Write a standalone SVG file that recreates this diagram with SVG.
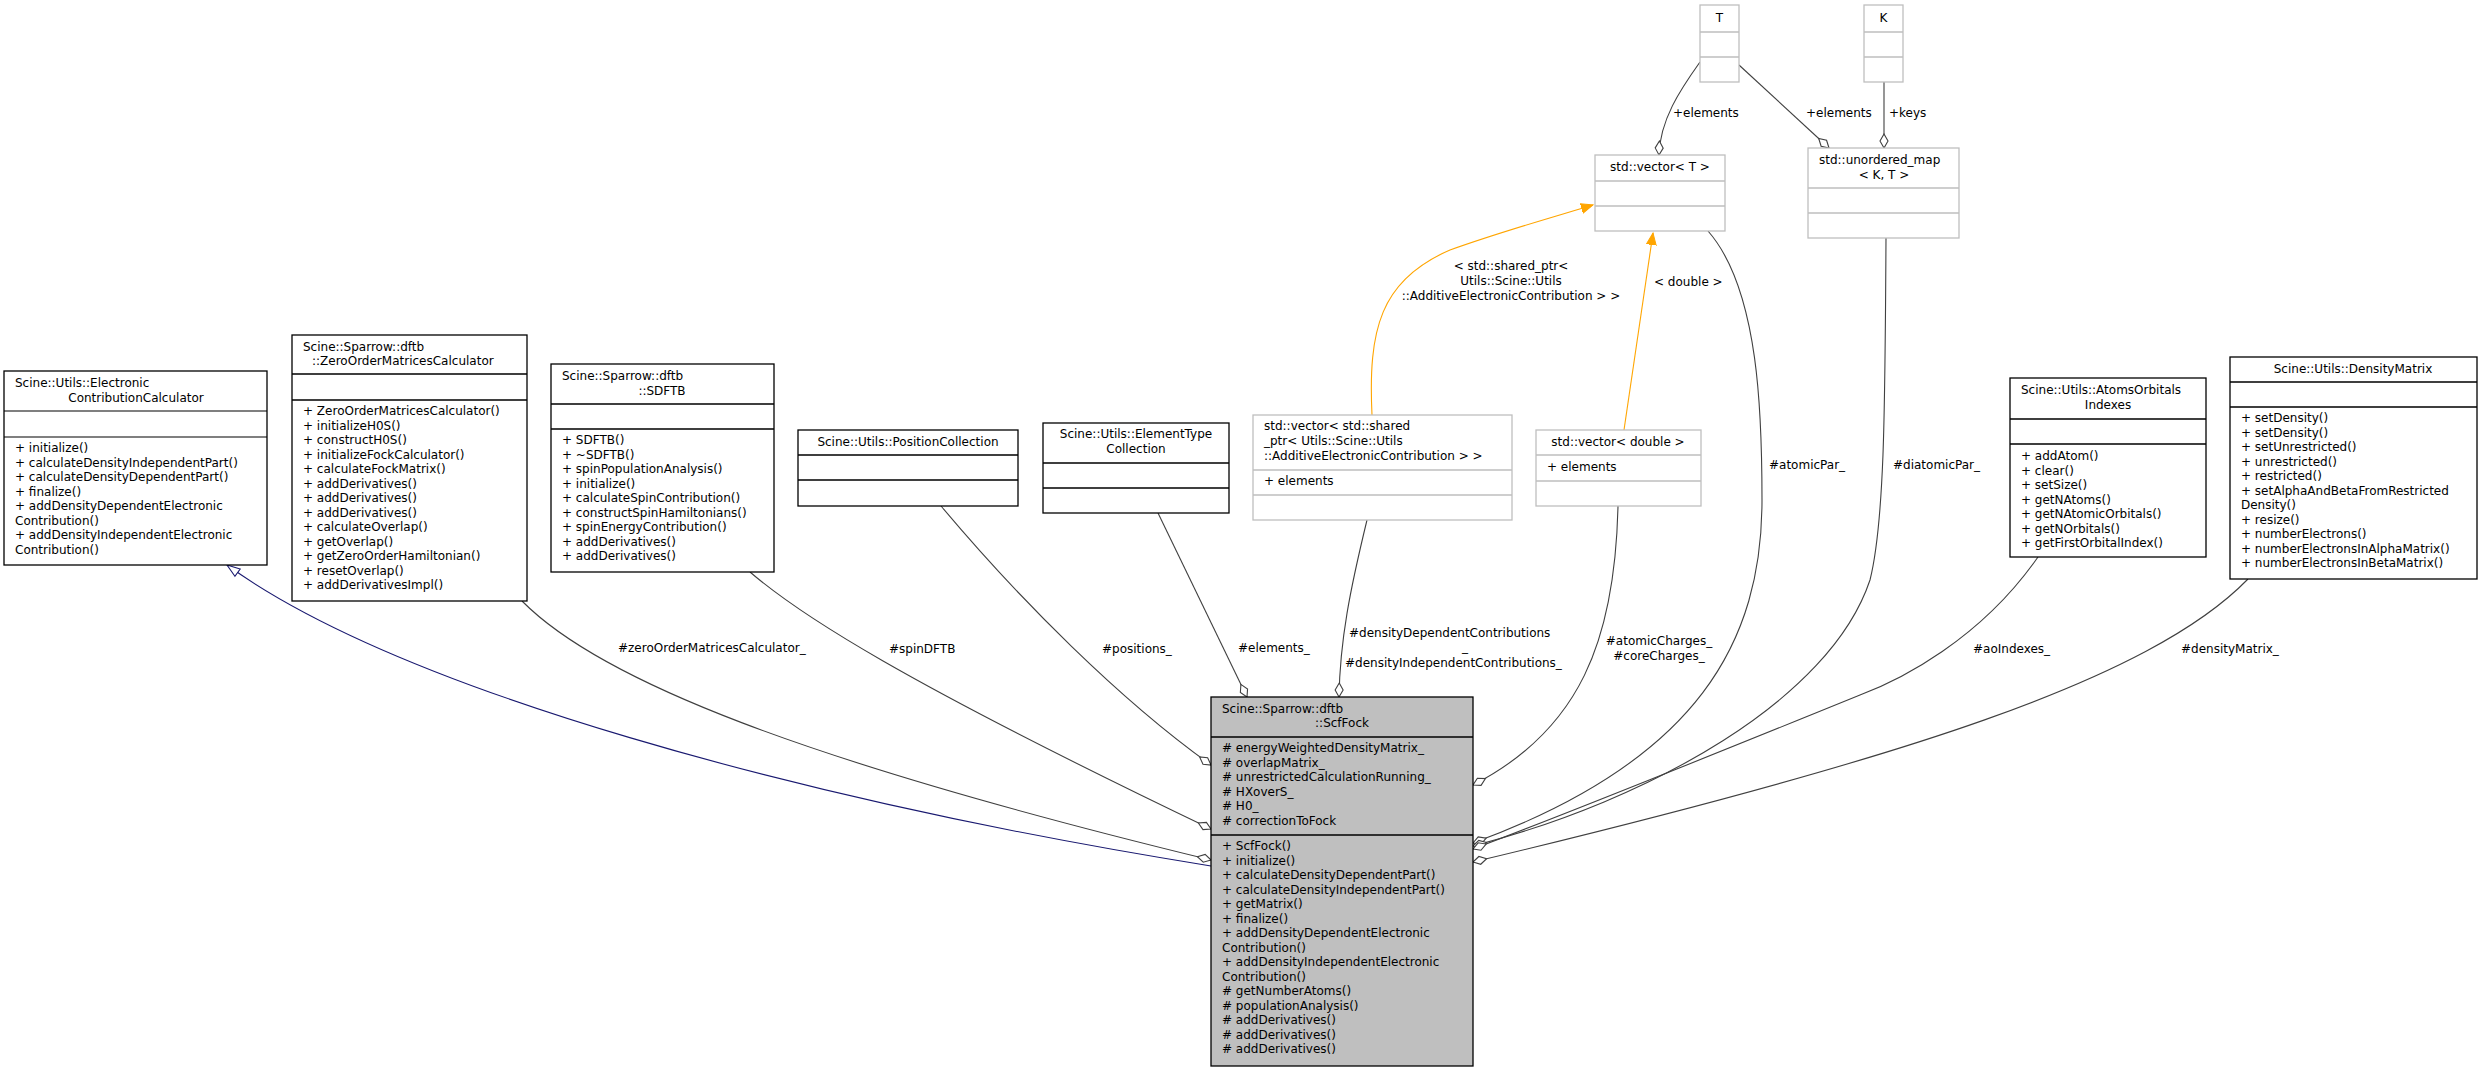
<svg xmlns="http://www.w3.org/2000/svg" width="2483" height="1072" viewBox="0 0 2483 1072">
<style>
text{font-family:"DejaVu Sans","Liberation Sans",sans-serif;font-size:12px;fill:#000}
.c{text-anchor:middle}
.box{fill:#fff;stroke:#000;stroke-width:1.3}
.tb{fill:#fff;stroke:#bfbfbf;stroke-width:1.3}
.sel{fill:#bfbfbf;stroke:#000;stroke-width:1.3}
.e{fill:none;stroke:#404040;stroke-width:1.1}
.or{fill:none;stroke:#ffa500;stroke-width:1.1}
.inh{fill:none;stroke:#191970;stroke-width:1.1}
</style>
<defs>
<marker id="dia" markerUnits="userSpaceOnUse" markerWidth="20" markerHeight="12" refX="15" refY="5" orient="auto" viewBox="0 0 20 10">
<path d="M15,5 L8,1 L1,5 L8,9 Z" fill="#fff" stroke="#404040" stroke-width="1.1"/>
</marker>
<marker id="oarr" markerUnits="userSpaceOnUse" markerWidth="14" markerHeight="12" refX="12" refY="5" orient="auto" viewBox="0 0 14 10">
<path d="M0,0 L12,5 L0,10 Z" fill="#ffa500" stroke="#ffa500"/>
</marker>
<marker id="inh" markerUnits="userSpaceOnUse" markerWidth="16" markerHeight="12" refX="14" refY="5" orient="auto" viewBox="0 0 16 10">
<path d="M1,0.5 L14,5 L1,9.5 Z" fill="#fff" stroke="#191970" stroke-width="1.1"/>
</marker>
</defs>

<g id="connectors">
<path class="inh" d="M1211,866 C800,800 400,690 227,565" marker-end="url(#inh)"/>
<path class="e" d="M522,601 C600,680 800,760 1211,860" marker-end="url(#dia)"/>
<path class="e" d="M750,572 C800,615 900,680 1211,829" marker-end="url(#dia)"/>
<path class="e" d="M941,506 C1020,600 1120,700 1211,765" marker-end="url(#dia)"/>
<path class="e" d="M1158,513 L1247,697" marker-end="url(#dia)"/>
<path class="e" d="M1367,520 C1350,590 1340,640 1339,697" marker-end="url(#dia)"/>
<path class="e" d="M1618,506 C1615,640 1580,730 1473,785" marker-end="url(#dia)"/>
<path class="e" d="M1708,231 C1760,290 1762,420 1762,500 C1762,640 1700,760 1473,843" marker-end="url(#dia)"/>
<path class="e" d="M1886,238 C1885,400 1885,520 1870,580 C1830,700 1650,800 1473,846" marker-end="url(#dia)"/>
<path class="e" d="M2038,557 C1980,640 1900,680 1860,695 C1700,760 1550,820 1473,849" marker-end="url(#dia)"/>
<path class="e" d="M2248,579 C2150,680 1900,760 1473,862" marker-end="url(#dia)"/>
<path class="e" d="M1700,62 C1680,90 1660,120 1659,155" marker-end="url(#dia)"/>
<path class="e" d="M1739,65 L1829,148" marker-end="url(#dia)"/>
<path class="e" d="M1884,82 L1884,148" marker-end="url(#dia)"/>
<path class="or" d="M1372,415 C1368,330 1380,280 1450,250 C1500,232 1550,218 1593,205" marker-end="url(#oarr)"/>
<path class="or" d="M1624,430 L1653,233" marker-end="url(#oarr)"/>
<text x="618" y="652">#zeroOrderMatricesCalculator_</text>
<text x="889" y="653">#spinDFTB</text>
<text x="1102" y="653">#positions_</text>
<text x="1238" y="652">#elements_</text>
<text x="1349" y="637">#densityDependentContributions</text>
<text x="1462" y="651">_</text>
<text x="1345" y="667">#densityIndependentContributions_</text>
<text class="c" x="1659" y="645">#atomicCharges_</text>
<text class="c" x="1659" y="660">#coreCharges_</text>
<text x="1769" y="469">#atomicPar_</text>
<text x="1893" y="469">#diatomicPar_</text>
<text x="1973" y="653">#aoIndexes_</text>
<text x="2181" y="653">#densityMatrix_</text>
<text x="1673" y="117">+elements</text>
<text x="1806" y="117">+elements</text>
<text x="1889" y="117">+keys</text>
<text x="1654" y="286">&lt; double &gt;</text>
<text class="c" x="1511" y="270">&lt; std::shared_ptr&lt;</text>
<text class="c" x="1511" y="285">Utils::Scine::Utils</text>
<text class="c" x="1511" y="300">::AdditiveElectronicContribution &gt; &gt;</text>
</g>

<g id="ElectronicContributionCalculator">
<rect class="box" x="4" y="371" width="263" height="194"/>
<path class="e" stroke="#000" d="M4,411 H267 M4,437 H267" style="stroke:#000"/>
<text x="15" y="387">Scine::Utils::Electronic</text>
<text class="c" x="136" y="402">ContributionCalculator</text>
<text x="15" y="452">+ initialize()</text>
<text x="15" y="466.5">+ calculateDensityIndependentPart()</text>
<text x="15" y="481">+ calculateDensityDependentPart()</text>
<text x="15" y="495.5">+ finalize()</text>
<text x="15" y="510">+ addDensityDependentElectronic</text>
<text x="15" y="524.5">Contribution()</text>
<text x="15" y="539">+ addDensityIndependentElectronic</text>
<text x="15" y="553.5">Contribution()</text>
</g>

<g id="ZeroOrderMatricesCalculator">
<rect class="box" x="292" y="335" width="235" height="266"/>
<path d="M292,374 H527 M292,400 H527" stroke="#000" stroke-width="1.3"/>
<text x="303" y="351">Scine::Sparrow::dftb</text>
<text x="312" y="365">::ZeroOrderMatricesCalculator</text>
<text x="303" y="415">+ ZeroOrderMatricesCalculator()</text>
<text x="303" y="429.5">+ initializeH0S()</text>
<text x="303" y="444">+ constructH0S()</text>
<text x="303" y="458.5">+ initializeFockCalculator()</text>
<text x="303" y="473">+ calculateFockMatrix()</text>
<text x="303" y="487.5">+ addDerivatives()</text>
<text x="303" y="502">+ addDerivatives()</text>
<text x="303" y="516.5">+ addDerivatives()</text>
<text x="303" y="531">+ calculateOverlap()</text>
<text x="303" y="545.5">+ getOverlap()</text>
<text x="303" y="560">+ getZeroOrderHamiltonian()</text>
<text x="303" y="574.5">+ resetOverlap()</text>
<text x="303" y="589">+ addDerivativesImpl()</text>
</g>

<g id="SDFTB">
<rect class="box" x="551" y="364" width="223" height="208"/>
<path d="M551,404 H774 M551,429 H774" stroke="#000" stroke-width="1.3"/>
<text x="562" y="380">Scine::Sparrow::dftb</text>
<text class="c" x="662" y="395">::SDFTB</text>
<text x="562" y="444">+ SDFTB()</text>
<text x="562" y="458.5">+ ~SDFTB()</text>
<text x="562" y="473">+ spinPopulationAnalysis()</text>
<text x="562" y="487.5">+ initialize()</text>
<text x="562" y="502">+ calculateSpinContribution()</text>
<text x="562" y="516.5">+ constructSpinHamiltonians()</text>
<text x="562" y="531">+ spinEnergyContribution()</text>
<text x="562" y="545.5">+ addDerivatives()</text>
<text x="562" y="560">+ addDerivatives()</text>
</g>

<g id="PositionCollection">
<rect class="box" x="798" y="430" width="220" height="76"/>
<path d="M798,455 H1018 M798,480 H1018" stroke="#000" stroke-width="1.3"/>
<text class="c" x="908" y="446">Scine::Utils::PositionCollection</text>
</g>

<g id="ElementTypeCollection">
<rect class="box" x="1043" y="423" width="186" height="90"/>
<path d="M1043,463 H1229 M1043,488 H1229" stroke="#000" stroke-width="1.3"/>
<text class="c" x="1136" y="438">Scine::Utils::ElementType</text>
<text class="c" x="1136" y="453">Collection</text>
</g>

<g id="VectorSharedPtr">
<rect class="tb" x="1253" y="415" width="259" height="105"/>
<path d="M1253,470 H1512 M1253,495 H1512" stroke="#bfbfbf" stroke-width="1.3"/>
<text x="1264" y="430">std::vector&lt; std::shared</text>
<text x="1264" y="445">_ptr&lt; Utils::Scine::Utils</text>
<text x="1264" y="460">::AdditiveElectronicContribution &gt; &gt;</text>
<text x="1264" y="485">+ elements</text>
</g>

<g id="VectorDouble">
<rect class="tb" x="1536" y="430" width="165" height="76"/>
<path d="M1536,455 H1701 M1536,481 H1701" stroke="#bfbfbf" stroke-width="1.3"/>
<text class="c" x="1618" y="446">std::vector&lt; double &gt;</text>
<text x="1547" y="471">+ elements</text>
</g>

<g id="T">
<rect class="tb" x="1700" y="5" width="39" height="77"/>
<path d="M1700,32 H1739 M1700,57 H1739" stroke="#bfbfbf" stroke-width="1.3"/>
<text class="c" x="1719.5" y="22">T</text>
</g>

<g id="K">
<rect class="tb" x="1864" y="5" width="39" height="77"/>
<path d="M1864,32 H1903 M1864,57 H1903" stroke="#bfbfbf" stroke-width="1.3"/>
<text class="c" x="1883.5" y="22">K</text>
</g>

<g id="VectorT">
<rect class="tb" x="1595" y="155" width="130" height="76"/>
<path d="M1595,181 H1725 M1595,206 H1725" stroke="#bfbfbf" stroke-width="1.3"/>
<text class="c" x="1660" y="171">std::vector&lt; T &gt;</text>
</g>

<g id="UnorderedMap">
<rect class="tb" x="1808" y="148" width="151" height="90"/>
<path d="M1808,188 H1959 M1808,213 H1959" stroke="#bfbfbf" stroke-width="1.3"/>
<text x="1819" y="164">std::unordered_map</text>
<text class="c" x="1884" y="179">&lt; K, T &gt;</text>
</g>

<g id="AtomsOrbitalsIndexes">
<rect class="box" x="2010" y="378" width="196" height="179"/>
<path d="M2010,419 H2206 M2010,444 H2206" stroke="#000" stroke-width="1.3"/>
<text x="2021" y="394">Scine::Utils::AtomsOrbitals</text>
<text class="c" x="2108" y="409">Indexes</text>
<text x="2021" y="460">+ addAtom()</text>
<text x="2021" y="474.5">+ clear()</text>
<text x="2021" y="489">+ setSize()</text>
<text x="2021" y="503.5">+ getNAtoms()</text>
<text x="2021" y="518">+ getNAtomicOrbitals()</text>
<text x="2021" y="532.5">+ getNOrbitals()</text>
<text x="2021" y="547">+ getFirstOrbitalIndex()</text>
</g>

<g id="DensityMatrix">
<rect class="box" x="2230" y="357" width="247" height="222"/>
<path d="M2230,382 H2477 M2230,407 H2477" stroke="#000" stroke-width="1.3"/>
<text class="c" x="2353" y="373">Scine::Utils::DensityMatrix</text>
<text x="2241" y="422">+ setDensity()</text>
<text x="2241" y="436.5">+ setDensity()</text>
<text x="2241" y="451">+ setUnrestricted()</text>
<text x="2241" y="465.5">+ unrestricted()</text>
<text x="2241" y="480">+ restricted()</text>
<text x="2241" y="494.5">+ setAlphaAndBetaFromRestricted</text>
<text x="2241" y="509">Density()</text>
<text x="2241" y="523.5">+ resize()</text>
<text x="2241" y="538">+ numberElectrons()</text>
<text x="2241" y="552.5">+ numberElectronsInAlphaMatrix()</text>
<text x="2241" y="567">+ numberElectronsInBetaMatrix()</text>
</g>

<g id="ScfFock">
<rect class="sel" x="1211" y="697" width="262" height="369"/>
<path d="M1211,737 H1473 M1211,835 H1473" stroke="#000" stroke-width="1.3"/>
<text x="1222" y="713">Scine::Sparrow::dftb</text>
<text class="c" x="1342" y="727">::ScfFock</text>
<text x="1222" y="752">#  energyWeightedDensityMatrix_</text>
<text x="1222" y="766.5">#  overlapMatrix_</text>
<text x="1222" y="781">#  unrestrictedCalculationRunning_</text>
<text x="1222" y="795.5">#  HXoverS_</text>
<text x="1222" y="810">#  H0_</text>
<text x="1222" y="824.5">#  correctionToFock</text>
<text x="1222" y="850">+ ScfFock()</text>
<text x="1222" y="864.5">+ initialize()</text>
<text x="1222" y="879">+ calculateDensityDependentPart()</text>
<text x="1222" y="893.5">+ calculateDensityIndependentPart()</text>
<text x="1222" y="908">+ getMatrix()</text>
<text x="1222" y="922.5">+ finalize()</text>
<text x="1222" y="937">+ addDensityDependentElectronic</text>
<text x="1222" y="951.5">Contribution()</text>
<text x="1222" y="966">+ addDensityIndependentElectronic</text>
<text x="1222" y="980.5">Contribution()</text>
<text x="1222" y="995">#  getNumberAtoms()</text>
<text x="1222" y="1009.5">#  populationAnalysis()</text>
<text x="1222" y="1024">#  addDerivatives()</text>
<text x="1222" y="1038.5">#  addDerivatives()</text>
<text x="1222" y="1053">#  addDerivatives()</text>
</g>
</svg>
